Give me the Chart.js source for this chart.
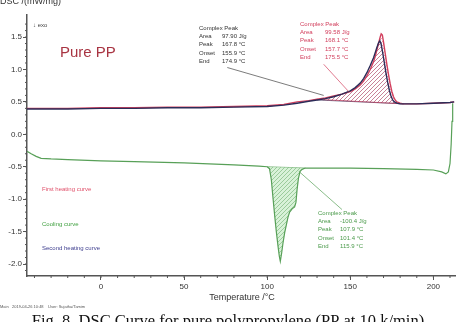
<!DOCTYPE html>
<html>
<head>
<meta charset="utf-8">
<script src="https://cdn.jsdelivr.net/npm/chart.js@4.4.1/dist/chart.umd.min.js"></script>
<style>
  body { margin: 0; background: #fff; }
  canvas { display: block; }
</style>
</head>
<body>
<canvas id="dsc" width="456" height="322"></canvas>
<script>
// DSC curves, pure PP (temperature in °C, DSC in mW/mg)
const heat1T = [-44.5, -40, -20, 0, 20, 40, 60, 80, 100, 110, 118, 125, 130, 135, 140, 145, 150, 153, 156, 158, 160, 162, 164, 165, 166, 167, 168, 168.6, 169.3, 170, 171, 172, 173, 174, 175, 176, 177, 178, 180, 182, 190, 200, 210, 212.5];
const heat1Y = [0.40, 0.40, 0.40, 0.41, 0.41, 0.42, 0.42, 0.43, 0.44, 0.46, 0.50, 0.52, 0.54, 0.56, 0.59, 0.62, 0.66, 0.70, 0.76, 0.82, 0.90, 1.00, 1.12, 1.20, 1.30, 1.40, 1.50, 1.55, 1.53, 1.42, 1.25, 1.08, 0.92, 0.78, 0.66, 0.58, 0.53, 0.50, 0.48, 0.47, 0.47, 0.48, 0.49, 0.50];

const heat2T = [-44.5, -40, -20, 0, 20, 40, 60, 80, 100, 110, 118, 125, 130, 135, 140, 145, 150, 153, 156, 158, 160, 162, 164, 165, 166, 167, 167.8, 168.5, 169.5, 170.5, 171.5, 172.5, 173.5, 174.5, 175.5, 176.5, 178, 180, 182, 190, 200, 210, 212.5];
const heat2Y = [0.39, 0.39, 0.39, 0.40, 0.40, 0.41, 0.41, 0.42, 0.43, 0.45, 0.48, 0.51, 0.53, 0.55, 0.58, 0.62, 0.67, 0.72, 0.79, 0.86, 0.95, 1.06, 1.18, 1.26, 1.34, 1.41, 1.44, 1.40, 1.26, 1.10, 0.94, 0.80, 0.68, 0.59, 0.53, 0.50, 0.48, 0.47, 0.47, 0.47, 0.48, 0.49, 0.50];

const coolT = [-44.5, -42, -39, -36, -30, -20, 0, 20, 50, 80, 95, 100, 101.4, 102.5, 103.5, 104.5, 105.5, 106.5, 107.3, 107.9, 108.6, 109.5, 110.5, 111.5, 112.5, 113.5, 115, 116.5, 117.3, 118, 118.8, 119.8, 121, 123, 125, 130, 150, 170, 190, 200, 205, 207.5, 209, 210, 210.7, 211.2, 211.6];
const coolY = [-0.26, -0.30, -0.34, -0.37, -0.38, -0.39, -0.41, -0.42, -0.44, -0.47, -0.49, -0.50, -0.53, -0.70, -0.98, -1.25, -1.50, -1.72, -1.88, -1.96, -1.85, -1.68, -1.52, -1.40, -1.28, -1.20, -1.15, -1.12, -1.05, -0.85, -0.68, -0.57, -0.54, -0.52, -0.52, -0.52, -0.52, -0.53, -0.54, -0.55, -0.58, -0.61, -0.58, -0.45, -0.15, 0.20, 0.48];

// integration baselines
const heat1BaseT = [130, 182];
const heat1BaseY = [0.54, 0.47];
const heat2BaseT = [130, 182];
const heat2BaseY = [0.53, 0.47];
const coolBaseT = [100, 123];
const coolBaseY = [-0.50, -0.52];

const xTicks = [0, 50, 100, 150, 200];
const yTicks = [-2.0, -1.5, -1.0, -0.5, 0.0, 0.5, 1.0, 1.5];

function pts(t, y) { return t.map((v, i) => ({ x: v, y: y[i] })); }
function part(t, y, a, b) { return pts(t, y).filter(p => p.x >= a && p.x <= b); }

function hatch(color, bg) {
    const c = document.createElement('canvas');
    c.width = 4; c.height = 4;
    const g = c.getContext('2d');
    if (bg) { g.fillStyle = bg; g.fillRect(0, 0, 4, 4); }
    g.strokeStyle = color;
    g.lineWidth = 0.6;
    g.beginPath();
    g.moveTo(0, 4); g.lineTo(4, 0);
    g.moveTo(-1, 1); g.lineTo(1, -1);
    g.moveTo(3, 5); g.lineTo(5, 3);
    g.stroke();
    return g.createPattern(c, 'repeat');
}

const RED = '#d2405e';
const DARK = '#2c2c58';
const GREEN = '#58a058';

const line = (data, color, w) => ({ data, borderColor: color, borderWidth: w, pointRadius: 0, tension: 0, fill: false });

const textPlugin = {
    id: 'texts',
    afterDraw(chart) {
        const ctx = chart.ctx;
        const xs = chart.scales.x, ys = chart.scales.y;
        ctx.save();

        // minor ticks
        ctx.strokeStyle = '#555';
        ctx.lineWidth = 1;
        ctx.beginPath();
        for (let t = -40; t <= 210; t += 10) {
            const px = xs.getPixelForValue(t);
            ctx.moveTo(px, ys.bottom); ctx.lineTo(px, ys.bottom + 2);
        }
        for (let v = -2.1; v <= 1.8; v += 0.1) {
            const py = ys.getPixelForValue(v);
            ctx.moveTo(xs.left, py); ctx.lineTo(xs.left - 2, py);
        }
        ctx.stroke();

        // leader lines (data coords)
        const lead = (a, b, c, d, col) => {
            ctx.strokeStyle = col; ctx.lineWidth = 0.7;
            ctx.beginPath();
            ctx.moveTo(xs.getPixelForValue(a), ys.getPixelForValue(b));
            ctx.lineTo(xs.getPixelForValue(c), ys.getPixelForValue(d));
            ctx.stroke();
        };
        lead(76, 1.03, 134, 0.60, '#444');
        lead(134, 1.08, 149, 0.66, RED);
        lead(119, -0.57, 145, -1.16, GREEN);

        ctx.textBaseline = 'middle';
        ctx.textAlign = 'left';
        const block = (x, x2, y, col, rows) => {
            ctx.fillStyle = col;
            ctx.font = '6px "Liberation Sans", Arial';
            ctx.fillText('Complex Peak', x, y);
            rows.forEach((r, i) => {
                ctx.fillText(r[0], x, y + 8.4 * (i + 1));
                ctx.fillText(r[1], x2, y + 8.4 * (i + 1));
            });
        };
        block(199, 222, 28, '#333', [['Area', '97.90 J/g'], ['Peak', '167.8 °C'], ['Onset', '155.9 °C'], ['End', '174.9 °C']]);
        block(300, 325, 24, RED, [['Area', '99.58 J/g'], ['Peak', '168.1 °C'], ['Onset', '157.7 °C'], ['End', '175.5 °C']]);
        block(318, 340, 213, '#4a9a4a', [['Area', '-100.4 J/g'], ['Peak', '107.9 °C'], ['Onset', '101.4 °C'], ['End', '115.9 °C']]);

        ctx.font = '6px "Liberation Sans", Arial';
        ctx.fillStyle = '#e0506a';
        ctx.fillText('First heating curve', 42, 189);
        ctx.fillStyle = '#40a040';
        ctx.fillText('Cooling curve', 42, 224);
        ctx.fillStyle = '#404090';
        ctx.fillText('Second heating curve', 42, 248);

        ctx.fillStyle = '#444';
        ctx.fillText('\u2193 exo', 33, 25);

        ctx.font = '15px "Liberation Sans", Arial';
        ctx.fillStyle = '#a83442';
        ctx.fillText('Pure PP', 60, 53);

        ctx.font = '9px "Liberation Sans", Arial';
        ctx.fillStyle = '#333';
        ctx.fillText('DSC /(mW/mg)', 0, 2);
        ctx.textAlign = 'center';
        ctx.fillText('Temperature /°C', 242, 298);

        ctx.textAlign = 'left';
        ctx.font = '4px "Liberation Sans", Arial';
        ctx.fillStyle = '#555';
        ctx.fillText('Main   2019-04-26 10:48    User: Sujatha/Tamim', 0, 307);

        ctx.textAlign = 'center';
        ctx.textBaseline = 'top';
        ctx.font = '16.5px "Liberation Serif", "Times New Roman", serif';
        ctx.fillStyle = '#111';
        ctx.fillText('Fig. 8. DSC Curve for pure polypropylene (PP at 10 k/min)', 228, 313);
        ctx.restore();
    }
};

const ctx = document.getElementById('dsc').getContext('2d');
new Chart(ctx, {
    type: 'line',
    data: {
        datasets: [
            line(pts(heat2T, heat2Y), DARK, 1.4),
            line(pts(heat1T, heat1Y), RED, 1.4),
            line(pts(coolT, coolY), GREEN, 1.2),
            { data: part(heat1T, heat1Y, heat1BaseT[0], heat1BaseT[1]), borderWidth: 0, pointRadius: 0, fill: { target: 6, above: hatch('rgba(210,64,94,0.8)'), below: hatch('rgba(210,64,94,0.8)') } },
            { data: part(heat2T, heat2Y, heat2BaseT[0], heat2BaseT[1]), borderWidth: 0, pointRadius: 0, fill: { target: 7, above: hatch('rgba(44,44,88,0.5)'), below: hatch('rgba(44,44,88,0.5)') } },
            { data: part(coolT, coolY, coolBaseT[0], coolBaseT[1]), borderWidth: 0, pointRadius: 0, fill: { target: 8, above: hatch('rgba(88,160,88,0.8)', 'rgba(200,236,200,0.7)'), below: hatch('rgba(88,160,88,0.8)', 'rgba(200,236,200,0.7)') } },
            line(pts(heat1BaseT, heat1BaseY), RED, 0.7),
            line(pts(heat2BaseT, heat2BaseY), DARK, 0.7),
            line(pts(coolBaseT, coolBaseY), GREEN, 0.7)
        ]
    },
    options: {
        responsive: false,
        animation: false,
        layout: { padding: { top: 15, right: 1, left: 0, bottom: 0 } },
        plugins: { legend: { display: false }, tooltip: { enabled: false } },
        scales: {
            x: {
                type: 'linear',
                min: -44.5,
                max: 213,
                afterBuildTicks: s => { s.ticks = xTicks.map(v => ({ value: v })); },
                afterFit: s => { s.height = 46; },
                grid: { drawOnChartArea: false, tickLength: 4, color: '#555' },
                border: { color: '#555', width: 1.5 },
                ticks: { color: '#333', padding: 2, font: { size: 8, family: '"Liberation Sans", Arial' } }
            },
            y: {
                type: 'linear',
                min: -2.185,
                max: 1.84,
                afterBuildTicks: s => { s.ticks = yTicks.map(v => ({ value: v })); },
                afterFit: s => { s.width = 27; },
                grid: { drawOnChartArea: false, tickLength: 4, color: '#555' },
                border: { color: '#555', width: 1.5 },
                ticks: { color: '#333', padding: 1, font: { size: 8, family: '"Liberation Sans", Arial' }, callback: v => v.toFixed(1) }
            }
        }
    },
    plugins: [textPlugin]
});
</script>
</body>
</html>
